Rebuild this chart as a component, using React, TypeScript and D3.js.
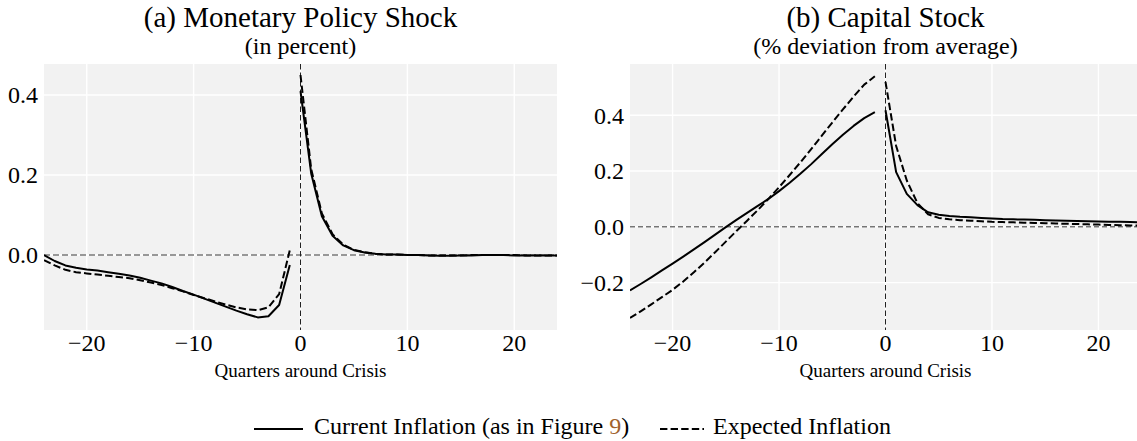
import React, { useEffect, useRef } from "react";
import * as d3 from "d3";

// quarters relative to the crisis
const preQuarters = [-24, -23, -22, -21, -20, -19, -18, -17, -16, -15, -14, -13, -12, -11, -10, -9, -8, -7, -6, -5, -4, -3, -2, -1];
const postQuarters = [0, 1, 2, 3, 4, 5, 6, 7, 8, 9, 10, 11, 12, 13, 14, 15, 16, 17, 18, 19, 20, 21, 22, 23, 24];

// (a) monetary policy shock
const mpCurrentPre = [0.0, -0.015, -0.026, -0.032, -0.036, -0.039, -0.043, -0.047, -0.051, -0.057, -0.064, -0.071, -0.08, -0.09, -0.099, -0.109, -0.119, -0.129, -0.139, -0.148, -0.156, -0.153, -0.125, -0.025];
const mpExpectedPre = [-0.013, -0.026, -0.037, -0.043, -0.046, -0.049, -0.052, -0.055, -0.058, -0.063, -0.069, -0.075, -0.083, -0.091, -0.1, -0.108, -0.116, -0.124, -0.131, -0.136, -0.138, -0.131, -0.098, 0.012];
const mpCurrentPost = [0.41, 0.204, 0.097, 0.048, 0.024, 0.012, 0.006, 0.003, 0.001, 0.001, 0.0, 0.0, -0.001, -0.002, -0.002, -0.001, -0.001, 0.0, 0.0, 0.0, -0.001, -0.001, -0.001, -0.001, -0.001];
const mpExpectedPost = [0.45, 0.215, 0.104, 0.052, 0.026, 0.013, 0.007, 0.003, 0.001, 0.001, 0.0, 0.0, -0.001, -0.001, -0.001, -0.001, 0.0, 0.0, 0.0, 0.0, 0.0, -0.001, -0.001, -0.001, -0.001];

// (b) capital stock
const kCurrentPre = [-0.228, -0.205, -0.181, -0.156, -0.132, -0.107, -0.081, -0.055, -0.028, -0.001, 0.025, 0.05, 0.075, 0.1, 0.128, 0.158, 0.19, 0.224, 0.26, 0.296, 0.33, 0.362, 0.39, 0.411];
const kExpectedPre = [-0.327, -0.303, -0.278, -0.252, -0.226, -0.196, -0.163, -0.128, -0.091, -0.053, -0.015, 0.022, 0.06, 0.1, 0.142, 0.186, 0.231, 0.278, 0.326, 0.374, 0.421, 0.467, 0.51, 0.54];
const kCurrentPost = [0.418, 0.196, 0.118, 0.078, 0.052, 0.043, 0.039, 0.036, 0.034, 0.032, 0.03, 0.028, 0.027, 0.026, 0.025, 0.024, 0.023, 0.022, 0.021, 0.02, 0.019, 0.018, 0.018, 0.017, 0.016];
const kExpectedPost = [0.52, 0.29, 0.166, 0.085, 0.045, 0.032, 0.027, 0.024, 0.022, 0.02, 0.018, 0.017, 0.016, 0.015, 0.014, 0.013, 0.012, 0.011, 0.01, 0.009, 0.008, 0.007, 0.006, 0.005, 0.004];

const xTicks = [-20, -10, 0, 10, 20];
const mpYTicks = [0.0, 0.2, 0.4];
const kYTicks = [-0.2, 0.0, 0.2, 0.4];

const legendLabels = ["Current Inflation (as in Figure ", "9", ")", "Expected Inflation"];

const FONT = "'Liberation Serif', 'Times New Roman', serif";

function App() {
  const ref = useRef(null);

  useEffect(() => {
    const svg = d3.select(ref.current);
    svg.selectAll("*").remove();

    const top = 64, bottom = 330;

    const panels = [
      {
        id: "a",
        title: "(a) Monetary Policy Shock",
        subtitle: "(in percent)",
        left: 44, right: 557,
        yDomain: [-0.1875, 0.4775],
        yTicks: mpYTicks,
        series: [
          { q: preQuarters, v: mpCurrentPre, dash: null },
          { q: preQuarters, v: mpExpectedPre, dash: "7.4,3.2" },
          { q: postQuarters, v: mpCurrentPost, dash: null },
          { q: postQuarters, v: mpExpectedPost, dash: "7.4,3.2" },
        ],
        zeroColor: "#777", zeroWidth: 1.5, zeroDash: "6,3",
      },
      {
        id: "b",
        title: "(b) Capital Stock",
        subtitle: "(% deviation from average)",
        left: 630, right: 1141,
        yDomain: [-0.37, 0.584],
        yTicks: kYTicks,
        series: [
          { q: preQuarters, v: kCurrentPre, dash: null },
          { q: preQuarters, v: kExpectedPre, dash: "7.4,3.2" },
          { q: postQuarters, v: kCurrentPost, dash: null },
          { q: postQuarters, v: kExpectedPost, dash: "7.4,3.2" },
        ],
        zeroColor: "#333", zeroWidth: 1, zeroDash: "5,3",
      },
    ];

    const fmtY = (d) => d3.format(".1f")(d).replace("-", "\u2212");
    const fmtX = d3.format("d");

    panels.forEach((p) => {
      const x = d3.scaleLinear().domain([-24, 24]).range([p.left, p.right]);
      const y = d3.scaleLinear().domain(p.yDomain).range([bottom, top]);
      const cx = (p.left + p.right) / 2;

      svg.append("clipPath").attr("id", "clip-" + p.id)
        .append("rect")
        .attr("x", p.left).attr("y", top)
        .attr("width", p.right - p.left).attr("height", bottom - top);

      const g = svg.append("g");

      g.append("rect")
        .attr("x", p.left).attr("y", top)
        .attr("width", p.right - p.left).attr("height", bottom - top)
        .attr("fill", "#f2f2f2");

      // grid
      g.selectAll(".vgrid").data(xTicks).enter().append("line")
        .attr("x1", (d) => x(d)).attr("x2", (d) => x(d))
        .attr("y1", top).attr("y2", bottom)
        .attr("stroke", "#fff").attr("stroke-width", 1.4);
      g.selectAll(".hgrid").data(p.yTicks).enter().append("line")
        .attr("x1", p.left).attr("x2", p.right)
        .attr("y1", (d) => y(d)).attr("y2", (d) => y(d))
        .attr("stroke", "#fff").attr("stroke-width", 1.4);

      const plot = g.append("g").attr("clip-path", "url(#clip-" + p.id + ")");

      // reference lines
      plot.append("line")
        .attr("x1", p.left).attr("x2", p.right)
        .attr("y1", y(0)).attr("y2", y(0))
        .attr("stroke", p.zeroColor).attr("stroke-width", p.zeroWidth)
        .attr("stroke-dasharray", p.zeroDash);
      plot.append("line")
        .attr("x1", x(0)).attr("x2", x(0))
        .attr("y1", top).attr("y2", bottom)
        .attr("stroke", "#222").attr("stroke-width", 1)
        .attr("stroke-dasharray", "5.5,3");

      const line = d3.line().x((d) => x(d[0])).y((d) => y(d[1]));

      p.series.forEach((s) => {
        plot.append("path")
          .attr("d", line(s.q.map((q, i) => [q, s.v[i]])))
          .attr("fill", "none")
          .attr("stroke", "#000")
          .attr("stroke-width", 2)
          .attr("stroke-linejoin", "round")
          .attr("stroke-dasharray", s.dash);
      });

      // tick labels
      g.selectAll(".ytick").data(p.yTicks).enter().append("text")
        .attr("x", p.left - 6).attr("y", (d) => y(d))
        .attr("dy", "0.35em")
        .attr("text-anchor", "end")
        .style("font-family", FONT).style("font-size", "24px")
        .text(fmtY);
      g.selectAll(".xtick").data(xTicks).enter().append("text")
        .attr("x", (d) => x(d)).attr("y", 351)
        .attr("text-anchor", "middle")
        .style("font-family", FONT).style("font-size", "24px")
        .text(fmtX);

      g.append("text")
        .attr("x", cx).attr("y", 377)
        .attr("text-anchor", "middle")
        .style("font-family", FONT).style("font-size", "19px")
        .text("Quarters around Crisis");

      g.append("text")
        .attr("x", cx).attr("y", 27)
        .attr("text-anchor", "middle")
        .style("font-family", FONT).style("font-size", "29px")
        .text(p.title);
      g.append("text")
        .attr("x", cx).attr("y", 54)
        .attr("text-anchor", "middle")
        .style("font-family", FONT).style("font-size", "24px")
        .text(p.subtitle);
    });

    // legend
    const lg = svg.append("g");
    lg.append("line")
      .attr("x1", 254).attr("x2", 303).attr("y1", 429).attr("y2", 429)
      .attr("stroke", "#000").attr("stroke-width", 2.2);
    const t1 = lg.append("text")
      .attr("x", 314).attr("y", 434)
      .style("font-family", FONT).style("font-size", "24px");
    t1.append("tspan").text(legendLabels[0]);
    t1.append("tspan").attr("fill", "#a0622d").text(legendLabels[1]);
    t1.append("tspan").text(legendLabels[2]);
    lg.append("line")
      .attr("x1", 660).attr("x2", 704).attr("y1", 429).attr("y2", 429)
      .attr("stroke", "#000").attr("stroke-width", 2.2)
      .attr("stroke-dasharray", "7.4,3.2");
    lg.append("text")
      .attr("x", 713).attr("y", 434)
      .style("font-family", FONT).style("font-size", "24px")
      .text(legendLabels[3]);
  }, []);

  return (
    <svg
      ref={ref}
      width={1137}
      height={441}
      style={{ position: "absolute", left: 0, top: 0, background: "#fff" }}
    />
  );
}

export default App;
